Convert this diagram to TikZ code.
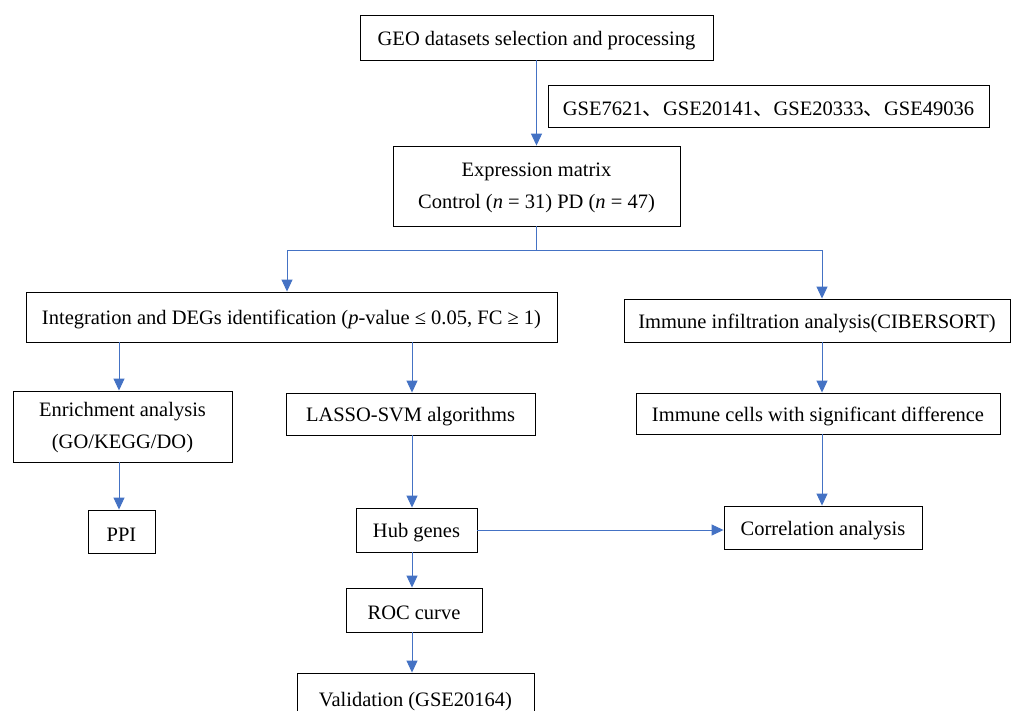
\documentclass[tikz,border=0pt]{standalone}
\usepackage{fontspec}
\setmainfont{Liberation Serif}
\newfontfamily\cjk{Noto Sans CJK SC}
\usetikzlibrary{arrows.meta,calc}
\definecolor{arrowblue}{HTML}{4472C4}
\newcommand\twolines[3]{\raisebox{#1}{\begin{tabular}{@{}c@{}}#2\\#3\end{tabular}}}
\tikzset{
  box/.style={draw=black, line width=0.9pt, rectangle, inner sep=0pt, align=center,
    execute at begin node={\rule{0pt}{20pt}},
    font=\fontsize{20.5}{32}\selectfont},
  flow/.style={draw=arrowblue, line width=1pt, -{Triangle[length=12pt,width=11pt]}},
  flowline/.style={draw=arrowblue, line width=1pt}
}
\begin{document}
\begin{tikzpicture}[x=1pt,y=-1pt]
\clip (0,0) rectangle (1011,711);
\fill[white] (0,0) rectangle (1011,711);
\node[box, minimum width=353pt, minimum height=45pt] (geo) at (536.5,37.5) {GEO datasets selection and processing};
\node[box, minimum width=441pt, minimum height=42pt] (gse) at (768.5,106) {GSE7621{\cjk 、}GSE20141{\cjk 、}GSE20333{\cjk 、}GSE49036};
\node[box, minimum width=287pt, minimum height=80pt] (expr) at (536.5,186) {\twolines{-3pt}{Expression matrix}{Control (\textit{n} = 31) PD (\textit{n} = 47)}};
\node[box, minimum width=531pt, minimum height=50pt] (integ) at (291.5,317) {Integration and DEGs identification (\textit{p}-value ≤ 0.05, FC ≥ 1)};
\node[box, minimum width=386pt, minimum height=43pt] (immune) at (817,320.5) {Immune infiltration analysis(CIBERSORT)};
\node[box, minimum width=219pt, minimum height=71pt] (enrich) at (122.5,426.5) {\twolines{-4pt}{Enrichment analysis}{(GO/KEGG/DO)}};
\node[box, minimum width=249pt, minimum height=42pt] (lasso) at (410.5,414) {LASSO-SVM algorithms};
\node[box, minimum width=364pt, minimum height=41pt] (cells) at (818,413.5) {Immune cells with significant difference};
\node[box, minimum width=67pt, minimum height=43pt] (ppi) at (121.5,531.5) {PPI};
\node[box, minimum width=121pt, minimum height=44pt] (hub) at (416.5,530) {Hub genes};
\node[box, minimum width=198pt, minimum height=43pt] (corr) at (823,527.5) {Correlation analysis};
\node[box, minimum width=136pt, minimum height=44pt] (roc) at (414,610) {ROC curve};
\node[box, minimum width=237pt, minimum height=52pt] (valid) at (415.5,699) {Validation (GSE20164)};
% connectors
\draw[flow] (geo.south) -- (expr.north);
\draw[flowline] (expr.south) -- ++(0,24) coordinate (split);
\coordinate (lt) at ($(integ.north)+(-4.5,0)$);
\coordinate (rt) at ($(immune.north)+(5,0)$);
\draw[flow] (split) -| (lt);
\draw[flow] (split) -| (rt);
\coordinate (en) at ($(enrich.north)+(-3.5,0)$);
\coordinate (la) at ($(lasso.north)+(1.5,0)$);
\draw[flow] (integ.south -| en) -- (en);
\draw[flow] (integ.south -| la) -- (la);
\draw[flow] (immune.south -| rt) -- (cells.north -| rt);
\draw[flow] (enrich.south -| en) -- (ppi.north -| en);
\draw[flow] (lasso.south -| la) -- (hub.north -| la);
\draw[flow] (cells.south -| rt) -- (corr.north -| rt);
\draw[flow] (hub.east) -- (hub.east -| corr.west);
\draw[flow] (hub.south -| la) -- (roc.north -| la);
\draw[flow] (roc.south -| la) -- (valid.north -| la);
\end{tikzpicture}
\end{document}
